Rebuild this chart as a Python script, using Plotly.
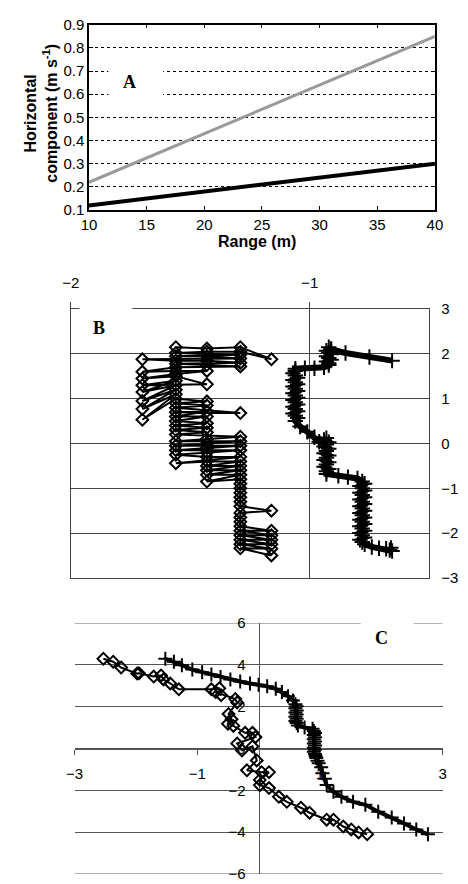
import plotly.graph_objects as go

W, H = 468, 884

# ---------------- Panel A data ----------------
range_m = [10, 15, 20, 25, 30, 35, 40]
horiz_grey = [0.22, 0.325, 0.43, 0.535, 0.64, 0.745, 0.85]
horiz_black = [0.12, 0.15, 0.18, 0.21, 0.24, 0.27, 0.30]
a_yticks = [0.1, 0.2, 0.3, 0.4, 0.5, 0.6, 0.7, 0.8, 0.9]
a_xticks = [10, 15, 20, 25, 30, 35, 40]

# ---------------- Panel B data (x, y) ----------------
b_diamond = [
    (-1.56, 2.15), (-1.43, 2.12), (-1.29, 2.15), (-1.16, 1.88), (-1.29, 2.05), (-1.43, 2.05),
    (-1.56, 2.02), (-1.29, 1.98), (-1.56, 1.95), (-1.43, 1.95), (-1.29, 1.90), (-1.70, 1.88),
    (-1.56, 1.85), (-1.43, 1.85), (-1.29, 1.80), (-1.56, 1.78), (-1.43, 1.75), (-1.29, 1.72),
    (-1.56, 1.70), (-1.70, 1.60), (-1.56, 1.62), (-1.43, 1.62), (-1.56, 1.55), (-1.70, 1.45),
    (-1.56, 1.50), (-1.43, 1.32), (-1.70, 1.30), (-1.56, 1.40), (-1.70, 1.15), (-1.56, 1.30),
    (-1.70, 0.95), (-1.56, 1.20), (-1.70, 0.77), (-1.56, 1.10), (-1.70, 0.53), (-1.56, 1.00),
    (-1.43, 0.94), (-1.56, 0.90), (-1.43, 0.85), (-1.56, 0.80), (-1.29, 0.68), (-1.56, 0.70),
    (-1.43, 0.72), (-1.56, 0.60), (-1.43, 0.60), (-1.56, 0.50), (-1.43, 0.45), (-1.56, 0.40),
    (-1.43, 0.35), (-1.56, 0.30), (-1.43, 0.25), (-1.56, 0.20), (-1.29, 0.15), (-1.43, 0.10),
    (-1.56, 0.05), (-1.29, 0.05), (-1.43, 0.00), (-1.56, -0.05), (-1.29, -0.05), (-1.43, -0.10),
    (-1.56, -0.15), (-1.29, -0.15), (-1.43, -0.20), (-1.56, -0.25), (-1.43, -0.30), (-1.29, -0.30),
    (-1.56, -0.44), (-1.43, -0.40), (-1.29, -0.40), (-1.43, -0.50), (-1.29, -0.50), (-1.43, -0.60),
    (-1.29, -0.60), (-1.43, -0.70), (-1.29, -0.70), (-1.43, -0.85), (-1.29, -0.80), (-1.29, -0.90),
    (-1.29, -1.00), (-1.29, -1.10), (-1.29, -1.20), (-1.29, -1.30), (-1.29, -1.40), (-1.16, -1.50),
    (-1.29, -1.55), (-1.29, -1.65), (-1.29, -1.75), (-1.29, -1.85), (-1.16, -1.95), (-1.29, -1.95),
    (-1.16, -2.05), (-1.29, -2.05), (-1.16, -2.15), (-1.29, -2.15), (-1.16, -2.25), (-1.29, -2.25),
    (-1.16, -2.35), (-1.29, -2.34), (-1.16, -2.50),
]
b_plus = [
    (-0.655, 1.85), (-0.75, 1.93), (-0.85, 2.02), (-0.91, 2.10), (-0.92, 2.15), (-0.91, 2.11),
    (-0.93, 2.07), (-0.92, 2.03), (-0.91, 1.99), (-0.93, 1.95), (-0.92, 1.91), (-0.91, 1.87),
    (-0.93, 1.83), (-0.92, 1.79), (-0.92, 1.75), (-0.94, 1.70), (-0.98, 1.68), (-1.02, 1.68),
    (-1.06, 1.67), (-1.06, 1.62), (-1.07, 1.57), (-1.06, 1.52), (-1.05, 1.47), (-1.07, 1.42),
    (-1.06, 1.37), (-1.05, 1.32), (-1.07, 1.27), (-1.06, 1.22), (-1.05, 1.17), (-1.07, 1.12),
    (-1.06, 1.07), (-1.05, 1.02), (-1.07, 0.97), (-1.06, 0.92), (-1.05, 0.87), (-1.07, 0.82),
    (-1.06, 0.77), (-1.05, 0.72), (-1.07, 0.67), (-1.06, 0.62), (-1.05, 0.57), (-1.06, 0.50),
    (-1.04, 0.38), (-1.01, 0.26), (-0.98, 0.14), (-0.96, 0.04), (-0.93, 0.12), (-0.94, 0.08),
    (-0.92, 0.03), (-0.93, -0.02), (-0.94, -0.07), (-0.92, -0.12), (-0.93, -0.17), (-0.94, -0.22),
    (-0.92, -0.27), (-0.93, -0.32), (-0.94, -0.37), (-0.92, -0.42), (-0.93, -0.47), (-0.94, -0.52),
    (-0.92, -0.57), (-0.93, -0.62), (-0.93, -0.68), (-0.88, -0.72), (-0.84, -0.75), (-0.80, -0.78),
    (-0.78, -0.85), (-0.77, -0.90), (-0.79, -0.95), (-0.78, -1.00), (-0.77, -1.05), (-0.79, -1.10),
    (-0.78, -1.15), (-0.77, -1.20), (-0.79, -1.25), (-0.78, -1.30), (-0.77, -1.35), (-0.79, -1.40),
    (-0.78, -1.45), (-0.77, -1.50), (-0.79, -1.55), (-0.78, -1.60), (-0.77, -1.65), (-0.79, -1.70),
    (-0.78, -1.75), (-0.77, -1.80), (-0.79, -1.85), (-0.78, -1.90), (-0.77, -1.95), (-0.79, -2.00),
    (-0.78, -2.05), (-0.77, -2.10), (-0.79, -2.15), (-0.78, -2.20), (-0.77, -2.25), (-0.74, -2.31),
    (-0.71, -2.34), (-0.68, -2.35), (-0.665, -2.38), (-0.655, -2.40), (-0.66, -2.33),
]
b_xticks = [-2, -1]
b_yticks = [-3, -2, -1, 0, 1, 2, 3]

# ---------------- Panel C data (x, y) ----------------
c_diamond = [
    (-2.53, 4.29), (-2.37, 4.15), (-2.24, 3.87), (-1.98, 3.58), (-1.95, 3.60), (-1.71, 3.44),
    (-1.59, 3.49), (-1.55, 3.30), (-1.44, 3.11), (-1.30, 2.83), (-0.77, 2.83), (-0.64, 2.88),
    (-0.61, 2.55), (-0.70, 2.70), (-0.38, 2.36), (-0.35, 2.20), (-0.49, 1.65), (-0.44, 1.40),
    (-0.50, 1.18), (-0.41, 1.08), (-0.22, 0.75), (-0.10, 0.75), (-0.05, 0.55), (-0.35, 0.24),
    (-0.27, -0.09), (-0.10, 0.10), (-0.03, -0.57), (-0.19, -1.04), (0.05, -1.13), (0.17, -1.13),
    (0.02, -1.50), (0.02, -1.75), (0.17, -1.89), (0.33, -2.31), (0.46, -2.55), (0.69, -2.83),
    (0.83, -3.07), (1.11, -3.40), (1.22, -3.40), (1.38, -3.73), (1.51, -3.87), (1.63, -4.01),
    (1.77, -4.10),
]
c_plus = [
    (-1.52, 4.29), (-1.38, 4.15), (-1.25, 3.98), (-1.08, 3.77), (-0.92, 3.65), (-0.77, 3.54),
    (-0.62, 3.42), (-0.46, 3.30), (-0.30, 3.20), (-0.14, 3.11), (0.00, 3.05), (0.14, 2.97),
    (0.28, 2.85), (0.38, 2.70), (0.48, 2.50), (0.56, 2.30), (0.60, 2.12), (0.62, 2.02),
    (0.60, 1.92), (0.62, 1.82), (0.60, 1.72), (0.62, 1.62), (0.60, 1.52), (0.62, 1.42),
    (0.60, 1.32), (0.62, 1.22), (0.64, 1.10), (0.75, 1.00), (0.88, 0.94), (0.90, 0.84),
    (0.92, 0.74), (0.90, 0.64), (0.92, 0.54), (0.90, 0.44), (0.92, 0.34), (0.90, 0.24),
    (0.92, 0.14), (0.90, 0.04), (0.92, -0.06), (0.90, -0.16), (0.92, -0.26), (0.93, -0.36),
    (0.94, -0.46), (0.96, -0.58), (0.98, -0.70), (1.02, -0.90), (1.04, -1.18), (1.08, -1.45),
    (1.11, -1.75), (1.22, -2.07), (1.35, -2.31), (1.54, -2.55), (1.74, -2.69), (1.95, -3.02),
    (2.17, -3.30), (2.37, -3.58), (2.57, -3.87), (2.76, -4.10),
]
c_xticks = [-3, -1, 1, 3]
c_yticks = [-6, -4, -2, 0, 2, 4, 6]
c_edge_grid = [6, -6]


def px_x(p):
    return p / W


def px_y(p):
    return 1 - p / H


def xs(pts):
    return [p[0] for p in pts]


def ys(pts):
    return [p[1] for p in pts]


SANS = "Liberation Sans, Arial, sans-serif"
SERIF = "Liberation Serif, Times New Roman, serif"

fig = go.Figure()

# Panel A
fig.add_trace(go.Scatter(x=range_m, y=horiz_grey, mode="lines",
                         line=dict(color="#9a9a9a", width=3), xaxis="x", yaxis="y",
                         showlegend=False, hoverinfo="skip"))
fig.add_trace(go.Scatter(x=range_m, y=horiz_black, mode="lines",
                         line=dict(color="black", width=4), xaxis="x", yaxis="y",
                         showlegend=False, hoverinfo="skip"))

# Panel B
fig.add_trace(go.Scatter(x=xs(b_diamond), y=ys(b_diamond), mode="lines+markers",
                         line=dict(color="black", width=2),
                         marker=dict(symbol="diamond-open", size=9, color="black",
                                     line=dict(width=2, color="black")),
                         xaxis="x2", yaxis="y2", showlegend=False, hoverinfo="skip"))
fig.add_trace(go.Scatter(x=xs(b_plus), y=ys(b_plus), mode="lines+markers",
                         line=dict(color="black", width=6),
                         marker=dict(symbol="cross-thin-open", size=11, color="black",
                                     line=dict(width=2, color="black")),
                         xaxis="x2", yaxis="y2", showlegend=False, hoverinfo="skip"))

# Panel C
fig.add_trace(go.Scatter(x=xs(c_diamond), y=ys(c_diamond), mode="lines+markers",
                         line=dict(color="black", width=2),
                         marker=dict(symbol="diamond-open", size=9, color="black",
                                     line=dict(width=2, color="black")),
                         xaxis="x3", yaxis="y3", showlegend=False, hoverinfo="skip"))
fig.add_trace(go.Scatter(x=xs(c_plus), y=ys(c_plus), mode="lines+markers",
                         line=dict(color="black", width=4),
                         marker=dict(symbol="cross-thin-open", size=10, color="black",
                                     line=dict(width=2, color="black")),
                         xaxis="x3", yaxis="y3", showlegend=False, hoverinfo="skip"))

tickfont = dict(family=SANS, size=15, color="black")

fig.update_layout(
    width=W, height=H,
    margin=dict(l=0, r=0, t=0, b=0),
    paper_bgcolor="white", plot_bgcolor="white",
    showlegend=False,
    # Panel A
    xaxis=dict(domain=[px_x(83), px_x(442)], range=[10, 40], anchor="y",
               tickvals=a_xticks, ticks="inside", ticklen=4, tickcolor="black",
               showline=True, linecolor="black", linewidth=1.5, mirror="ticks",
               showgrid=False, zeroline=False, tickfont=tickfont),
    yaxis=dict(domain=[px_y(205), px_y(16)], range=[0.1, 0.9], anchor="x",
               tickvals=a_yticks, tickformat=".1f", ticks="inside", ticklen=4,
               tickcolor="black", showline=True, linecolor="black", linewidth=1.5,
               mirror="ticks", showgrid=True, gridcolor="black", gridwidth=1,
               griddash="dot", zeroline=False, tickfont=tickfont),
    # Panel B
    xaxis2=dict(domain=[px_x(64), px_x(436)], range=[-2, -0.5], anchor="y2",
                side="top", tickvals=b_xticks, ticks="outside", ticklen=6,
                tickcolor="#444", showline=True, linecolor="#444", linewidth=1,
                mirror=True, showgrid=True, gridcolor="#444", gridwidth=1,
                zeroline=False, tickfont=tickfont, ticklabelstandoff=8),
    yaxis2=dict(domain=[px_y(580), px_y(306)], range=[-3, 3], anchor="x2",
                side="right", tickvals=b_yticks, ticks="", showline=True,
                linecolor="#444", linewidth=1, mirror=True, showgrid=True,
                gridcolor="#444", gridwidth=1, zeroline=False, tickfont=tickfont,
                ticklabelstandoff=8),
    # Panel C
    xaxis3=dict(domain=[px_x(68), px_x(450)], range=[-3, 3], anchor="free",
                position=px_y(754), tickvals=c_xticks, ticks="outside", ticklen=5,
                tickcolor="#555", showline=True, linecolor="#555", linewidth=1,
                showgrid=False, zeroline=False, tickfont=tickfont,
                layer="below traces", ticklabelstandoff=6),
    yaxis3=dict(domain=[px_y(882), px_y(626)], range=[-6, 6], anchor="free",
                position=px_x(259), tickvals=c_yticks, ticks="", showline=True,
                linecolor="#555", linewidth=1, showgrid=True, gridcolor="#555",
                gridwidth=1, zeroline=False, tickfont=tickfont,
                layer="below traces", ticklabelstandoff=10),
)

# Panel C gridlines at the edges of the y range (plotly drops them at the boundary)
for gy in c_edge_grid:
    fig.add_shape(type="line", xref="x3", yref="y3", x0=-3, x1=3, y0=gy, y1=gy,
                  line=dict(color="#555", width=1), layer="below")

# White boxes behind panel letters (interrupt grid / border lines)
for (x0, x1, y0, y1) in [(103, 160, 52, 98), (73, 128, 298, 345), (365, 420, 616, 660)]:
    fig.add_shape(type="rect", xref="paper", yref="paper",
                  x0=px_x(x0), x1=px_x(x1), y0=px_y(y1), y1=px_y(y0),
                  fillcolor="white", line=dict(width=0), layer="above")

letter_font = dict(family=SERIF, size=18, color="black")
for (txt, x, y) in [("<b>A</b>", 125, 74), ("<b>B</b>", 93, 325), ("<b>C</b>", 387, 641)]:
    fig.add_annotation(text=txt, xref="paper", yref="paper", x=px_x(x), y=px_y(y),
                       xanchor="center", yanchor="middle", showarrow=False, font=letter_font)

# Axis titles of panel A
fig.add_annotation(text="<b>Horizontal<br>component (m s<sup>-1</sup>)</b>",
                   xref="paper", yref="paper", x=px_x(33), y=px_y(106),
                   xanchor="center", yanchor="middle", textangle=-90, showarrow=False,
                   font=dict(family=SANS, size=16, color="black"))
fig.add_annotation(text="<b>Range (m)</b>", xref="paper", yref="paper",
                   x=px_x(257), y=px_y(237), xanchor="center", yanchor="middle",
                   showarrow=False, font=dict(family=SANS, size=16, color="black"))

fig.write_html("out.html")
